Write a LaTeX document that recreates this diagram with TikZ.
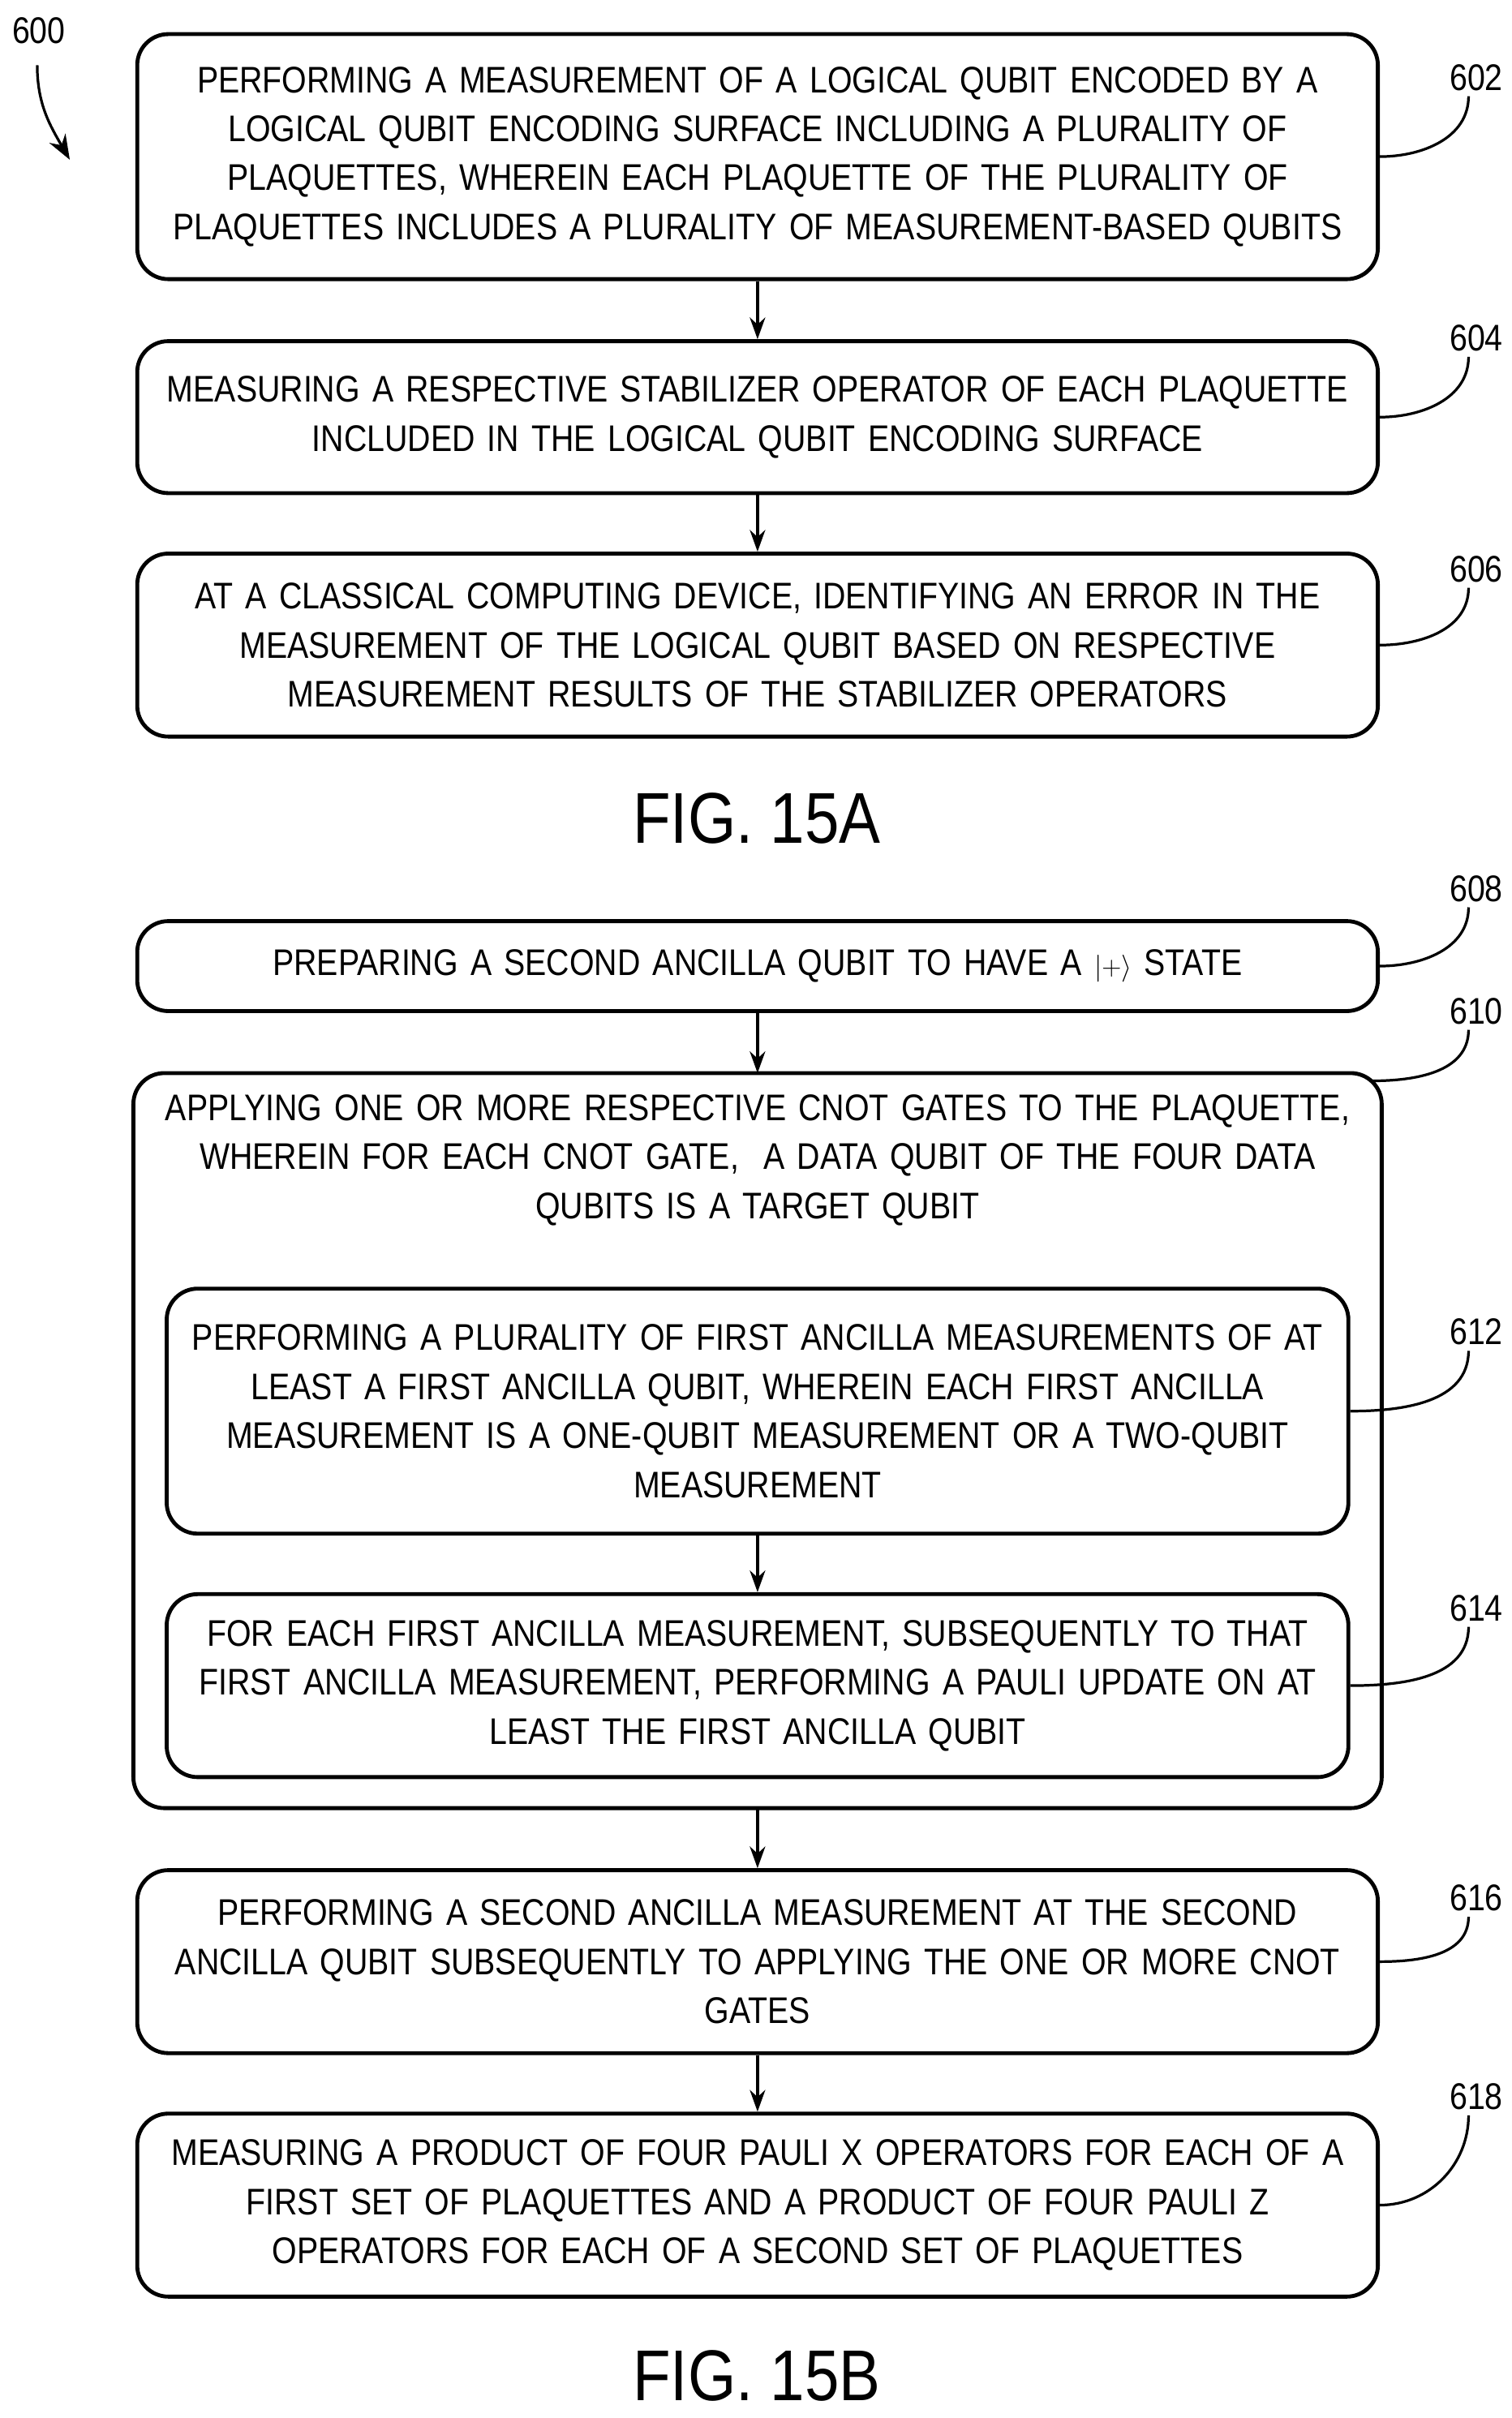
\documentclass[tikz,border=0pt]{standalone}
\usepackage{fontspec}
\setmainfont{Liberation Sans}[FakeStretch=0.86]
\usetikzlibrary{arrows.meta}
\begin{document}
\begin{tikzpicture}[x=0.5mm,y=-0.5mm,
    line width=3.6pt,
    box/.style = {draw, rounded corners=10mm, align=center,
                  font=\fontsize{34}{45}\selectfont, inner sep=0pt},
    lbl/.style = {font=\fontsize{34}{40}\selectfont},
    fig/.style = {font=\fontsize{66}{70}\selectfont},
    flow/.style = {-{Stealth[length=7mm,width=5mm]}, line width=2.4pt},
    lead/.style = {line width=2.4pt},
                        ]
\useasboundingbox (0,0) rectangle (975,1559.3);
% FIG. 15A
\node[box, text width=400mm, minimum height=79mm] (b602) at (488.5,101)
  {PERFORMING A MEASUREMENT OF A LOGICAL QUBIT ENCODED BY A\\ LOGICAL QUBIT ENCODING SURFACE INCLUDING A PLURALITY OF\\ PLAQUETTES, WHEREIN EACH PLAQUETTE OF THE PLURALITY OF\\ PLAQUETTES INCLUDES A PLURALITY OF MEASUREMENT-BASED QUBITS};
\node[box, text width=400mm, minimum height=49mm] (b604) at (488.5,269)
  {MEASURING A RESPECTIVE STABILIZER OPERATOR OF EACH PLAQUETTE\\ INCLUDED IN THE LOGICAL QUBIT ENCODING SURFACE};
\node[box, text width=400mm, minimum height=59mm] (b606) at (488.5,416)
  {AT A CLASSICAL COMPUTING DEVICE, IDENTIFYING AN ERROR IN THE\\ MEASUREMENT OF THE LOGICAL QUBIT BASED ON RESPECTIVE\\ MEASUREMENT RESULTS OF THE STABILIZER OPERATORS};
\node[fig] (f15a) at (488,528) {FIG. 15A};
% FIG. 15B
\node[box, text width=400mm, minimum height=29mm] (b608) at (488.5,623)
  {PREPARING A SECOND ANCILLA QUBIT TO HAVE A $|{+}\rangle$ STATE};
\draw[rounded corners=10mm] (86,692) rectangle (891,1166);
\coordinate (b610n) at (488.5,692);
\coordinate (b610s) at (488.5,1166);
\coordinate (b610c) at (885,697);
\node[box, draw=none, text width=400mm] (t610) at (488.5,748)
  {APPLYING ONE OR MORE RESPECTIVE CNOT GATES TO THE PLAQUETTE,\\ WHEREIN FOR EACH CNOT GATE, \ A DATA QUBIT OF THE FOUR DATA\\ QUBITS IS A TARGET QUBIT};
\node[box, text width=381mm, minimum height=79mm] (b612) at (488.5,910)
  {PERFORMING A PLURALITY OF FIRST ANCILLA MEASUREMENTS OF AT\\ LEAST A FIRST ANCILLA QUBIT, WHEREIN EACH FIRST ANCILLA\\ MEASUREMENT IS A ONE-QUBIT MEASUREMENT OR A TWO-QUBIT\\ MEASUREMENT};
\node[box, text width=381mm, minimum height=59mm] (b614) at (488.5,1087)
  {FOR EACH FIRST ANCILLA MEASUREMENT, SUBSEQUENTLY TO THAT\\ FIRST ANCILLA MEASUREMENT, PERFORMING A PAULI UPDATE ON AT\\ LEAST THE FIRST ANCILLA QUBIT};
\node[box, text width=400mm, minimum height=59mm] (b616) at (488.5,1265)
  {PERFORMING A SECOND ANCILLA MEASUREMENT AT THE SECOND\\ ANCILLA QUBIT SUBSEQUENTLY TO APPLYING THE ONE OR MORE CNOT\\ GATES};
\node[box, text width=400mm, minimum height=59mm] (b618) at (488.5,1422)
  {MEASURING A PRODUCT OF FOUR PAULI X OPERATORS FOR EACH OF A\\ FIRST SET OF PLAQUETTES AND A PRODUCT OF FOUR PAULI Z\\ OPERATORS FOR EACH OF A SECOND SET OF PLAQUETTES};
\node[fig] (f15b) at (488,1532) {FIG. 15B};
% flow arrows
\draw[flow] (b602) -- (b604);
\draw[flow] (b604) -- (b606);
\draw[flow] (b608) -- (b610n);
\draw[flow] (b612) -- (b614);
\draw[flow] (b610s) -- (b616);
\draw[flow] (b616) -- (b618);
% reference numerals
\node[lbl] (n600) at (25,20) {600};
\coordinate (a600) at (45,103);
\draw[-{Stealth[length=8mm,width=6mm]}, lead] (n600.south) ++(-1,10) to[out=-90,in=120] (a600);
\foreach \n/\y/\t in {602/50/b602, 604/218/b604, 606/367/b606, 608/573/b608,
                      612/859/b612, 614/1037/b614, 616/1224/b616, 618/1352/b618}{
  \node[lbl] (n\n) at (952,\y) {\n};
  \draw[lead] (\t.east) to[out=0,in=-90] ([xshift=-2.5mm]n\n.south);
}
\node[lbl] (n610) at (952,652) {610};
\draw[lead] (b610c) to[out=0,in=-90] ([xshift=-2.5mm]n610.south);
\end{tikzpicture}
\end{document}
